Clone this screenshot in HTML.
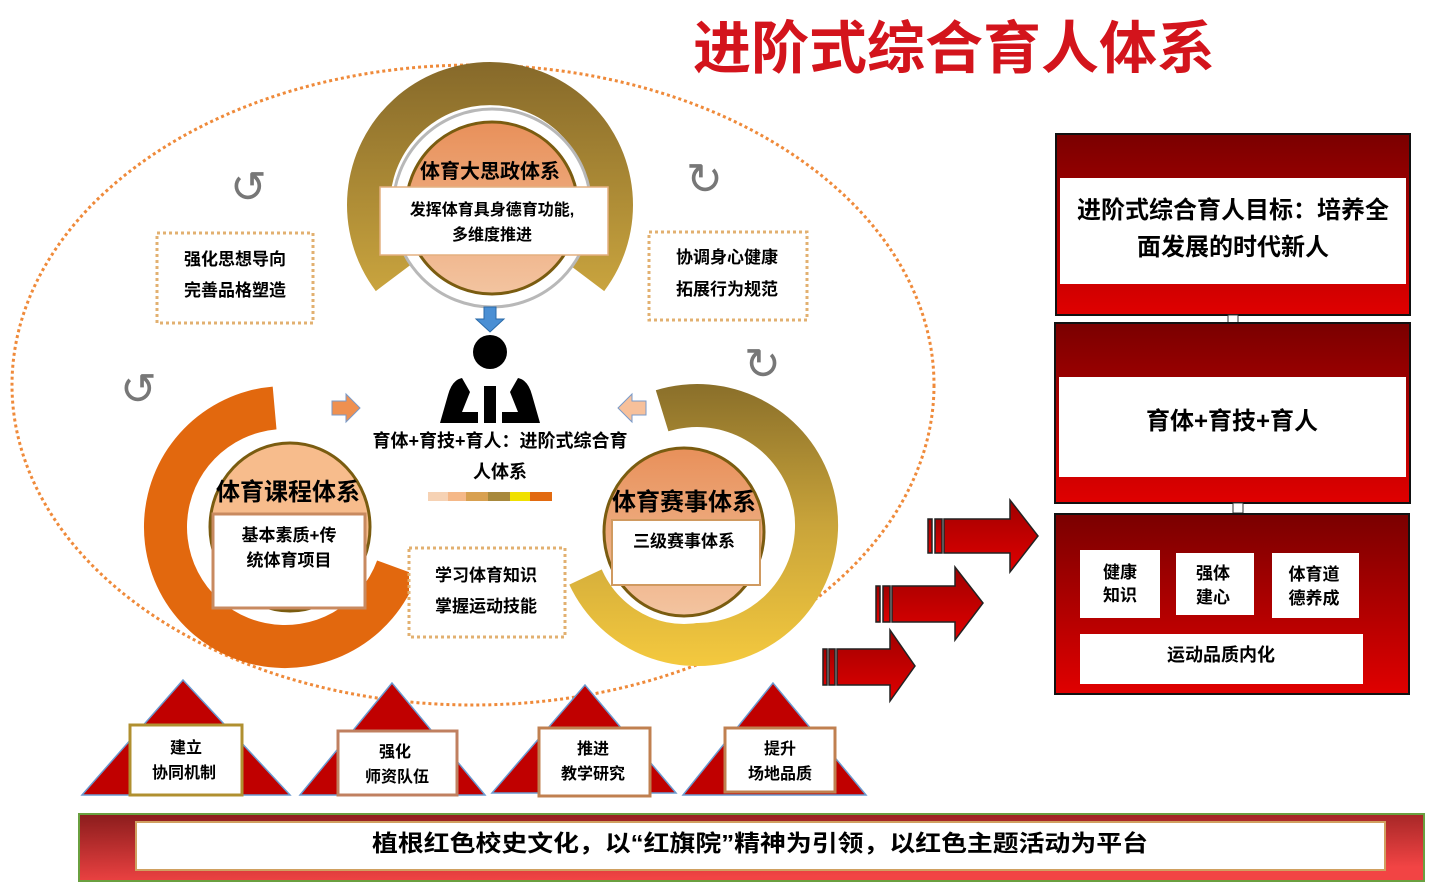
<!DOCTYPE html>
<html><head><meta charset="utf-8"><style>
html,body{margin:0;padding:0;background:#fff;}
body{width:1440px;height:892px;overflow:hidden;position:relative;font-family:"Liberation Sans","Noto Sans CJK SC",sans-serif;}
svg{position:absolute;left:0;top:0;}
text{font-family:"Liberation Sans","Noto Sans CJK SC",sans-serif;font-weight:bold;fill:#000;}
</style></head><body>
<svg width="1440" height="892" viewBox="0 0 1440 892">
<defs>
<linearGradient id="gold" x1="0" y1="0" x2="0" y2="1"><stop offset="0" stop-color="#86692a"/><stop offset="1" stop-color="#c9a43e"/></linearGradient>
<linearGradient id="yel" x1="0" y1="0" x2="0" y2="1"><stop offset="0" stop-color="#8a6f2a"/><stop offset="0.5" stop-color="#c9a43a"/><stop offset="1" stop-color="#f4c93e"/></linearGradient>
<linearGradient id="org" x1="0" y1="0" x2="0" y2="1"><stop offset="0" stop-color="#e8905a"/><stop offset="1" stop-color="#f3c4a0"/></linearGradient>
<linearGradient id="red" x1="0" y1="0" x2="0" y2="1"><stop offset="0" stop-color="#7a0000"/><stop offset="1" stop-color="#e00000"/></linearGradient>
<linearGradient id="ban" x1="0" y1="0" x2="0.3" y2="1"><stop offset="0" stop-color="#8a1c1c"/><stop offset="1" stop-color="#f24444"/></linearGradient>
<linearGradient id="arr" x1="0" y1="0" x2="0" y2="1"><stop offset="0" stop-color="#a00000"/><stop offset="1" stop-color="#e00000"/></linearGradient>
</defs>

<text x="954" y="68" font-size="57" text-anchor="middle" textLength="522" lengthAdjust="spacingAndGlyphs" style="fill:#d3141c">进阶式综合育人体系</text>

<ellipse cx="473" cy="385" rx="461" ry="320" fill="none" stroke="#ef8a3a" stroke-width="3" stroke-dasharray="3,3"/>

<!-- top ring -->
<path d="M375.8,291.1 A143,143 0 1 1 604.2,291.1 L569.9,265.2 A100,100 0 1 0 410.1,265.2 Z" fill="url(#gold)"/>
<circle cx="492" cy="208" r="99" fill="#fff" stroke="#b8b8b8" stroke-width="3"/>
<circle cx="492" cy="208" r="86" fill="url(#org)" stroke="#7a5c10" stroke-width="3"/>
<text x="490" y="178" font-size="20" text-anchor="middle">体育大思政体系</text>
<rect x="380" y="187" width="228" height="68" fill="#fff" stroke="#e4b080" stroke-width="1.5"/>
<text x="492" y="215" font-size="16" text-anchor="middle">发挥体育具身德育功能,</text>
<text x="492" y="240" font-size="16" text-anchor="middle">多维度推进</text>

<!-- left ring -->
<path d="M417.5,575.2 A141,141 0 1 1 272.7,386.6 L276.5,429.4 A98,98 0 1 0 377.1,560.5 Z" fill="#e2680e"/>
<ellipse cx="290" cy="527" rx="90" ry="92" fill="#fff"/>
<ellipse cx="290" cy="527" rx="80" ry="84" fill="#f7bc8c" stroke="#7a5c10" stroke-width="3"/>
<text x="288" y="500" font-size="24" text-anchor="middle">体育课程体系</text>
<rect x="213" y="514" width="152" height="94" fill="#fff" stroke="#c88a60" stroke-width="3"/>
<text x="289" y="541" font-size="17" text-anchor="middle">基本素质+传</text>
<text x="289" y="566" font-size="17" text-anchor="middle">统体育项目</text>

<!-- right ring -->
<path d="M655.8,390.2 A141,141 0 1 1 569.3,584.6 L608.2,566.4 A98,98 0 1 0 668.4,431.3 Z" fill="url(#yel)"/>
<ellipse cx="684" cy="532" rx="90" ry="92" fill="#fff"/>
<ellipse cx="684" cy="532" rx="80" ry="84" fill="url(#org)" stroke="#7a5c10" stroke-width="3"/>
<text x="684" y="510" font-size="24" text-anchor="middle">体育赛事体系</text>
<rect x="612" y="520" width="148" height="65" fill="#fff" stroke="#d09a60" stroke-width="2"/>
<text x="684" y="547" font-size="17" text-anchor="middle">三级赛事体系</text>

<!-- blue arrow -->
<path d="M484,307 h12 v12 h8 l-14,13 l-14,-13 h8 z" fill="#4a8fd4" stroke="#2a6aa8"/>
<!-- person -->
<circle cx="490" cy="352" r="17" fill="#000"/>
<path d="M462,378 Q452,380 448,395 L440,423 L478,423 L478,412 L462,412 L470,392 Z" fill="#000"/>
<path d="M518,378 Q528,380 532,395 L540,423 L502,423 L502,412 L518,412 L510,392 Z" fill="#000"/>
<rect x="484" y="386" width="12" height="37" fill="#000"/>
<!-- small arrows -->
<path d="M332,401 h14 v-7 l14,14 l-14,14 v-7 h-14 z" fill="#ef9050" stroke="#7a9ac8"/>
<path d="M646,401 h-14 v-7 l-14,14 l14,14 v-7 h14 z" fill="#f7c09a" stroke="#7a9ac8"/>

<text x="500" y="447" font-size="18" text-anchor="middle">育体+育技+育人：进阶式综合育</text>
<text x="500" y="478" font-size="18" text-anchor="middle">人体系</text>
<rect x="428" y="492" width="20" height="9" fill="#f6d2b4"/>
<rect x="448" y="492" width="18" height="9" fill="#f5b888"/>
<rect x="466" y="492" width="22" height="9" fill="#d8a050"/>
<rect x="488" y="492" width="22" height="9" fill="#a8893c"/>
<rect x="510" y="492" width="20" height="9" fill="#f0e000"/>
<rect x="530" y="492" width="22" height="9" fill="#e26a10"/>

<!-- dotted boxes -->
<g fill="#fff" stroke="#e2b070" stroke-width="3" stroke-dasharray="3,3">
<rect x="157" y="233" width="156" height="90"/>
<rect x="649" y="232" width="158" height="88"/>
<rect x="409" y="548" width="156" height="89"/>
</g>
<text x="235" y="265" font-size="17" text-anchor="middle">强化思想导向</text>
<text x="235" y="296" font-size="17" text-anchor="middle">完善品格塑造</text>
<text x="727" y="263" font-size="17" text-anchor="middle">协调身心健康</text>
<text x="727" y="295" font-size="17" text-anchor="middle">拓展行为规范</text>
<text x="486" y="581" font-size="17" text-anchor="middle">学习体育知识</text>
<text x="486" y="612" font-size="17" text-anchor="middle">掌握运动技能</text>

<!-- curved arrows -->
<text x="230" y="202" font-size="44" style="fill:#777;font-weight:normal">↺</text>
<text x="686" y="194" font-size="44" style="fill:#777;font-weight:normal">↻</text>
<text x="120" y="404" font-size="44" style="fill:#777;font-weight:normal">↺</text>
<text x="744" y="379" font-size="44" style="fill:#777;font-weight:normal">↻</text>

<!-- triangles -->
<g fill="#c00000" stroke="#6a9ad0" stroke-width="1.5">
<polygon points="183,680 82,795 290,795"/>
<polygon points="392,683 300,795 485,795"/>
<polygon points="585,685 492,793 676,793"/>
<polygon points="773,683 683,795 866,795"/>
</g>
<rect x="130" y="725" width="112" height="70" fill="#fff" stroke="#b09030" stroke-width="3"/>
<rect x="338" y="731" width="119" height="64" fill="#fff" stroke="#c08060" stroke-width="3"/>
<rect x="539" y="728" width="111" height="68" fill="#fff" stroke="#c08050" stroke-width="3"/>
<rect x="725" y="728" width="110" height="64" fill="#fff" stroke="#c08050" stroke-width="3"/>
<text x="186" y="753" font-size="16" text-anchor="middle">建立</text>
<text x="184" y="778" font-size="16" text-anchor="middle">协同机制</text>
<text x="395" y="757" font-size="16" text-anchor="middle">强化</text>
<text x="397" y="782" font-size="16" text-anchor="middle">师资队伍</text>
<text x="593" y="754" font-size="16" text-anchor="middle">推进</text>
<text x="593" y="779" font-size="16" text-anchor="middle">教学研究</text>
<text x="780" y="754" font-size="16" text-anchor="middle">提升</text>
<text x="780" y="779" font-size="16" text-anchor="middle">场地品质</text>

<!-- banner -->
<rect x="79" y="814" width="1345" height="67" fill="url(#ban)" stroke="#6aa040" stroke-width="2"/>
<rect x="136" y="822" width="1249" height="48" fill="#fff" stroke="#d0a060" stroke-width="2"/>
<text x="760" y="851" font-size="23" text-anchor="middle" textLength="776" lengthAdjust="spacingAndGlyphs">植根红色校史文化，以“红旗院”精神为引领，以红色主题活动为平台</text>

<!-- red arrows -->
<g fill="url(#arr)" stroke="#222" stroke-width="1.5">
<rect x="928" y="519" width="4" height="34"/><rect x="935" y="519" width="7" height="34"/>
<path d="M944,519 h66 v-19 l28,36 l-28,36 v-19 h-66 z"/>
<rect x="876" y="586" width="4" height="36"/><rect x="883" y="586" width="7" height="36"/>
<path d="M892,586 h63 v-19 l28,36 l-28,37 v-18 h-63 z"/>
<rect x="823" y="649" width="4" height="36"/><rect x="829" y="649" width="6" height="36"/>
<path d="M837,649 h53 v-19 l25,36 l-25,35 v-16 h-53 z"/>
</g>

<!-- right boxes -->
<rect x="1056" y="134" width="354" height="181" fill="url(#red)" stroke="#111" stroke-width="2"/>
<rect x="1060" y="178" width="346" height="106" fill="#fff"/>
<text x="1233" y="218" font-size="24" text-anchor="middle">进阶式综合育人目标：培养全</text>
<text x="1233" y="255" font-size="24" text-anchor="middle">面发展的时代新人</text>
<rect x="1228" y="315" width="10" height="8" fill="#fff" stroke="#333"/>
<rect x="1055" y="323" width="355" height="180" fill="url(#red)" stroke="#111" stroke-width="2"/>
<rect x="1059" y="377" width="347" height="100" fill="#fff"/>
<text x="1232" y="429" font-size="24" text-anchor="middle">育体+育技+育人</text>
<rect x="1233" y="503" width="10" height="10" fill="#fff" stroke="#333"/>
<rect x="1055" y="514" width="354" height="180" fill="url(#red)" stroke="#111" stroke-width="2"/>
<rect x="1080" y="550" width="80" height="68" fill="#fff"/>
<rect x="1176" y="553" width="78" height="62" fill="#fff"/>
<rect x="1272" y="553" width="87" height="65" fill="#fff"/>
<rect x="1080" y="634" width="283" height="50" fill="#fff"/>
<text x="1120" y="578" font-size="17" text-anchor="middle">健康</text>
<text x="1120" y="601" font-size="17" text-anchor="middle">知识</text>
<text x="1213" y="579" font-size="17" text-anchor="middle">强体</text>
<text x="1213" y="603" font-size="17" text-anchor="middle">建心</text>
<text x="1314" y="580" font-size="17" text-anchor="middle">体育道</text>
<text x="1314" y="604" font-size="17" text-anchor="middle">德养成</text>
<text x="1221" y="661" font-size="18" text-anchor="middle">运动品质内化</text>
</svg>
</body></html>
